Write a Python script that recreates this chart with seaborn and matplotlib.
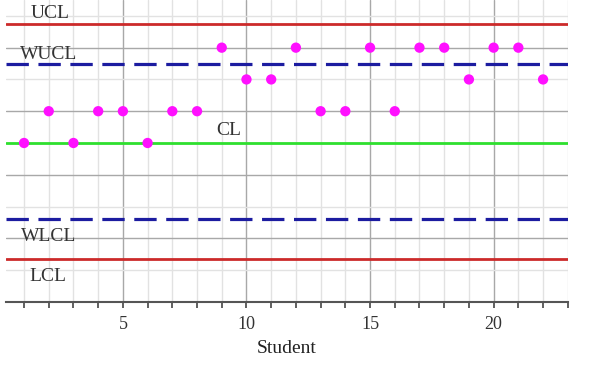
import numpy as np
import pandas as pd
import seaborn as sns
import matplotlib.pyplot as plt
from matplotlib.ticker import MultipleLocator

# data
students = list(range(1, 23))
scores = [5, 6, 5, 6, 6, 5, 6, 6, 8, 7, 7, 8, 6, 6, 8, 6, 8, 8, 7, 8, 8, 7]
limit_names = ["UCL", "WUCL", "CL", "WLCL", "LCL"]
limit_values = [8.75, 7.5, 5.0, 2.6, 1.35]
label_x = [2.05, 2.0, 9.3, 2.0, 1.95]
label_y = [9.07, 7.8, 5.4, 2.05, 0.8]

sns.set_style("white")
plt.rcParams['font.family'] = ['Liberation Serif', 'DejaVu Serif']

df = pd.DataFrame({"Student": students, "Score": scores})

fig = plt.figure(figsize=(6.1, 3.9), dpi=100)
ax = fig.add_axes([0.0098, 0.226, 0.921, 0.774])

ax.set_xlim(0.27, 23.0)
ax.set_ylim(0, 9.5)

# grid: major darker, minor lighter
ax.xaxis.set_major_locator(MultipleLocator(5))
ax.xaxis.set_minor_locator(MultipleLocator(1))
ax.yaxis.set_major_locator(MultipleLocator(2))
ax.yaxis.set_minor_locator(MultipleLocator(1))
ax.grid(which="major", color="#a8a8a8", lw=1.0)
ax.grid(which="minor", color="#e2e2e2", lw=1.0)
ax.set_axisbelow(True)

# control lines
styles = {
    "UCL": dict(color="#cc2a2a", lw=2.0, ls="-"),
    "WUCL": dict(color="#1c1ca0", lw=2.3, ls=(0, (7, 3))),
    "CL": dict(color="#2ee02e", lw=2.0, ls="-"),
    "WLCL": dict(color="#1c1ca0", lw=2.3, ls=(0, (7, 3))),
    "LCL": dict(color="#cc2a2a", lw=2.0, ls="-"),
}
for name, val, tx, ty in zip(limit_names, limit_values, label_x, label_y):
    ax.axhline(val, zorder=2, **styles[name])
    ax.text(tx, ty, name, ha="center", va="center", fontsize=14,
            color="#333333", zorder=4)

sns.scatterplot(data=df, x="Student", y="Score", ax=ax, color="#ff10ff",
                s=55, edgecolor="none", zorder=3)

for side in ["left", "right", "top"]:
    ax.spines[side].set_visible(False)
ax.spines["bottom"].set_color("#555555")
ax.spines["bottom"].set_linewidth(1.5)

ax.tick_params(axis="x", which="both", bottom=True, direction="out",
               length=4, width=1.2, color="#444444", labelsize=13,
               labelcolor="#333333", pad=6)
ax.tick_params(axis="y", which="both", left=False, labelleft=False)
ax.set_xlabel("Student", fontsize=14, color="#222222", labelpad=5)
ax.set_ylabel("")

fig.savefig("out.png", dpi=100)
